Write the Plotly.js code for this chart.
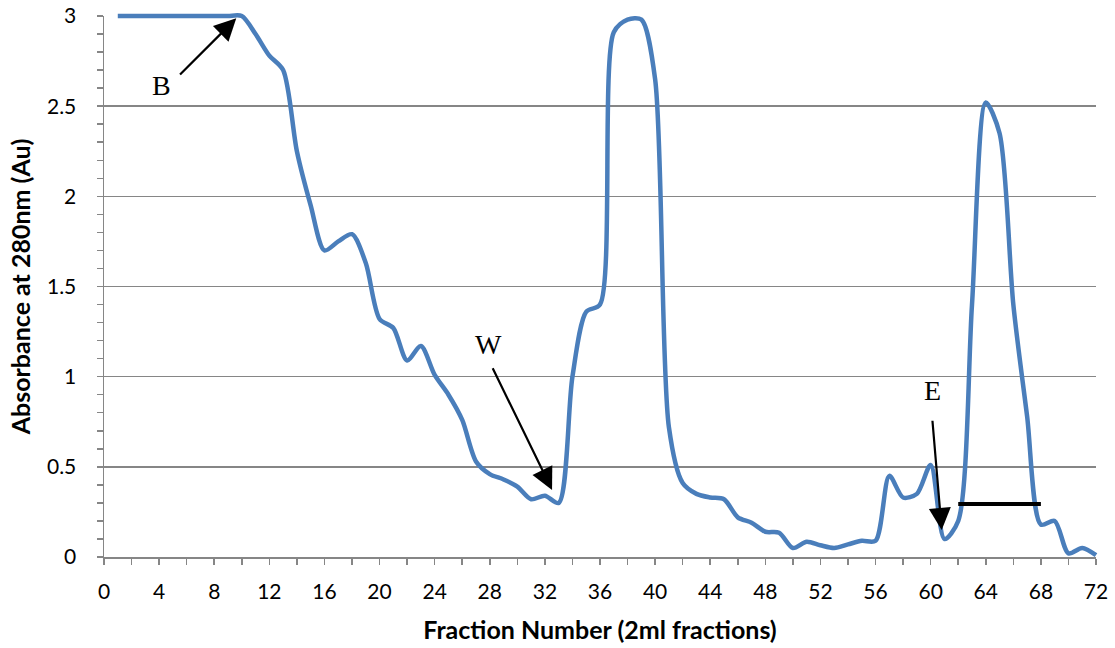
<!DOCTYPE html>
<html>
<head>
<meta charset="utf-8">
<script src="https://cdn.plot.ly/plotly-3.0.1.min.js"></script>
<style>
html,body{margin:0;padding:0;background:#fff;}
#chart{width:1115px;height:648px;}
.cartesianlayer [clip-path], .cartesianlayer .plot, .scatterlayer, .scatterlayer *{clip-path:none !important;}
</style>
</head>
<body>
<div id="chart"></div>
<script>
// Fraction numbers
const fractions = [1,2,3,4,5,6,7,8,9,10,11,12,13,14,15,16,17,18,19,20,21,22,23,24,25,26,27,28,29,30,31,32,33,34,35,36,37,38,39,40,41,42,43,44,45,46,47,48,49,50,51,52,53,54,55,56,57,58,59,60,61,62,63,64,65,66,67,68,69,70,71,72];
// Absorbance at 280 nm
const absorbance = [3,3,3,3,3,3,3,3,3,3,2.9,2.78,2.70,2.25,1.95,1.70,1.75,1.79,1.63,1.32,1.27,1.09,1.17,1.01,0.90,0.76,0.53,0.46,0.43,0.39,0.32,0.34,0.30,1.00,1.36,1.40,2.91,2.98,2.98,2.65,0.72,0.41,0.35,0.33,0.32,0.22,0.19,0.14,0.135,0.05,0.085,0.065,0.05,0.07,0.09,0.09,0.45,0.33,0.35,0.51,0.10,0.20,1.40,2.52,2.35,1.40,0.78,0.18,0.20,0.02,0.05,0.01];
// Annotation labels
const labels = ["B","W","E"];
const labelPos = [[4.19,2.617],[27.94,1.181],[60.12,0.926]];
const arrowTips = [[9.6,2.987],[32.52,0.372],[60.80,0.15]];
const arrowTails = [[5.41,2.667],[28.16,1.055],[60.12,0.764]];
// Pooled fraction bar
const poolRange = [62,68];
const poolLevel = 0.294;

const grey = '#868686';
const trace = {
  x: fractions, y: absorbance, type: 'scatter', mode: 'lines',
  line: {color: '#4a7ebb', width: 4.5, shape: 'spline', smoothing: 0.8},
  hoverinfo: 'skip'
};

const annotations = [];
labels.forEach((t,i)=>{
  annotations.push({x: labelPos[i][0], y: labelPos[i][1], xref:'x', yref:'y', text: t, showarrow:false,
    font:{family:'"Liberation Serif", "Times New Roman", serif', size:28, color:'#000'}});
  annotations.push({x: arrowTips[i][0], y: arrowTips[i][1], xref:'x', yref:'y', ax: arrowTails[i][0], ay: arrowTails[i][1],
    axref:'x', ayref:'y', text:'', showarrow:true, arrowhead:2, arrowsize:2, arrowwidth:2.2, arrowcolor:'#000', standoff:0, startstandoff:0});
});

const layout = {
  width: 1115, height: 648,
  margin: {l:104, r:19, t:16, b:91},
  paper_bgcolor:'#fff', plot_bgcolor:'#fff',
  showlegend:false,
  font:{family:'Lato, "Open Sans", sans-serif', size:21, color:'#000'},
  xaxis:{range:[0,72], dtick:4, tick0:0, showgrid:false, zeroline:false,
    showline:true, linecolor:grey, linewidth:1.5,
    ticks:'outside', ticklen:6, tickcolor:grey, tickwidth:1.5,
    minor:{dtick:2, ticks:'outside', ticklen:6, tickcolor:grey, tickwidth:1.5, showgrid:false},
    tickfont:{size:21}, ticklabelstandoff:9,
    title:{text:'<b>Fraction Number (2ml fractions)</b>', font:{size:25}, standoff:20}},
  yaxis:{range:[0,3], dtick:0.5, showgrid:true, gridcolor:grey, gridwidth:1.5, zeroline:false,
    showline:true, linecolor:grey, linewidth:1.5,
    ticks:'outside', ticklen:6, tickcolor:grey, tickwidth:1.5,
    minor:{dtick:0.1, ticks:'outside', ticklen:6, tickcolor:grey, tickwidth:1.5, showgrid:false},
    tickfont:{size:21}, ticklabelstandoff:16,
    title:{text:'<b>Absorbance at 280nm (Au)</b>', font:{size:25}, standoff:9}},
  annotations: annotations,
  shapes:[{type:'line', xref:'x', yref:'y', x0:poolRange[0], x1:poolRange[1], y0:poolLevel, y1:poolLevel,
    line:{color:'#000', width:4}}]
};

function unclip(){
  // enlarge the plot-area clip rectangles slightly so the line at the top edge keeps its full width
  document.querySelectorAll('clipPath').forEach(cp=>{
    if (/plot$/.test(cp.id)) {
      const r = cp.querySelector('rect');
      if (r && !r.dataset.grown) {
        const y = parseFloat(r.getAttribute('y')||0), h = parseFloat(r.getAttribute('height')||0);
        r.setAttribute('y', y-6); r.setAttribute('height', h+12);
        r.dataset.grown = '1';
      }
    }
  });
}
Plotly.newPlot('chart', [trace], layout, {displayModeBar:false, staticPlot:true}).then(()=>{
  unclip();
  setTimeout(unclip, 0);
});
</script>
</body>
</html>
